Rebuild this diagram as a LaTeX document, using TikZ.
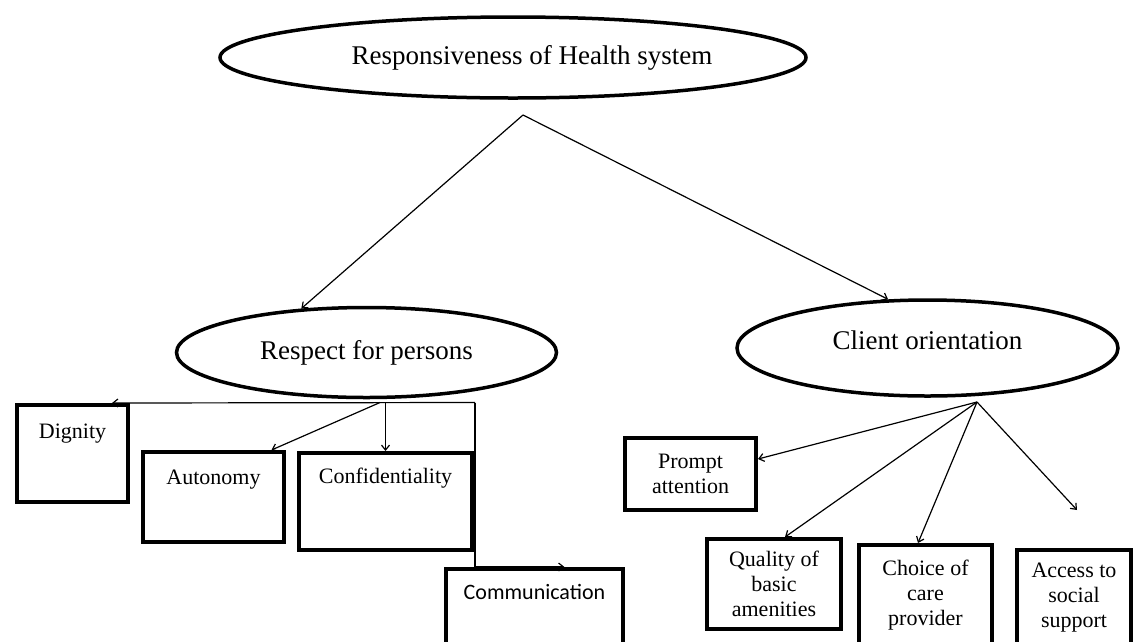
\documentclass[tikz,border=0pt]{standalone}
\usepackage{fontspec}
\setmainfont{Liberation Serif}
\newfontfamily\calib{Carlito}
\usetikzlibrary{shapes.geometric,arrows.meta}
\begin{document}
\begin{tikzpicture}[x=1pt,y=-1pt,
  oval/.style={ellipse, draw, line width=3.5pt, inner sep=0pt, font=\fontsize{27}{30}\selectfont},
  tbox/.style={rectangle, draw, line width=4pt, inner sep=0pt, anchor=north west, font=\fontsize{22}{25}\selectfont},
  mbox/.style={rectangle, draw, line width=4pt, inner sep=0pt, align=center, font=\fontsize{22}{25}\selectfont},
  conn/.style={line width=1.2pt},
  arr/.style={conn, -{Straight Barb[length=5pt,width=8pt]}}]
\useasboundingbox[fill=white] (0,0) rectangle (1135,641);

% ellipses
\node[oval, minimum width=586pt, minimum height=81pt] (top) at (513,57.5) {\hspace*{38pt}Responsiveness of Health system};
\node[oval, minimum width=380pt, minimum height=90pt] (resp) at (366.5,352.5) {Respect for persons};
\node[oval, minimum width=381pt, minimum height=96pt, text depth=16pt] (client) at (927.5,348) {Client orientation};

% left boxes
\node[tbox, minimum width=111pt, text height=33pt, text depth=64pt] (dig) at (15,403) {Dignity};
\node[tbox, minimum width=141pt, text height=32pt, text depth=58pt] (auto) at (141,450) {Autonomy};
\node[tbox, minimum width=173pt, text height=30pt, text depth=67pt] (conf) at (297,451) {Confidentiality};
\node[tbox, minimum width=177pt, text height=30pt, text depth=63pt, font=\calib\fontsize{22}{25}\selectfont] (comm) at (444,567) {Communication};

% right boxes
\node[mbox, minimum width=131pt, minimum height=72pt] (prompt) at (690.5,474) {Prompt\\attention};
\node[mbox, minimum width=134pt, minimum height=90pt] (qual) at (774,584) {Quality of\\basic\\amenities};
\node[mbox, minimum width=133pt, minimum height=100pt] (choice) at (925.5,595) {Choice of\\care\\provider};
\node[mbox, minimum width=114pt, minimum height=95pt] (acc) at (1074,597.5) {Access to\\social\\support};

% junction points
\coordinate (ta) at (523,115);
\coordinate (rb) at (380,402.5);
\coordinate (rc) at (475,402.5);
\coordinate (cb) at (977,402);

% connectors
\draw[arr] (ta) -- (resp.146);
\draw[arr] (ta) -- (client.129);

\draw[arr] (rc) -- ([xshift=39.5pt]dig.north);
\draw[arr] (rc) |- ([xshift=30pt]comm.north);
\draw[arr] (conf.north |- rb) -- (conf.north);
\draw[arr] (rb) -- ([xshift=58pt]auto.north);

\draw[arr] (cb) -- ([yshift=15pt]prompt.east);
\draw[arr] (cb) -- ([xshift=11pt]qual.north);
\draw[arr] (cb) -- ([xshift=-7.5pt]choice.north);
\draw[arr] (cb) -- ([xshift=3pt,yshift=38pt]acc.north);
\end{tikzpicture}
\end{document}
